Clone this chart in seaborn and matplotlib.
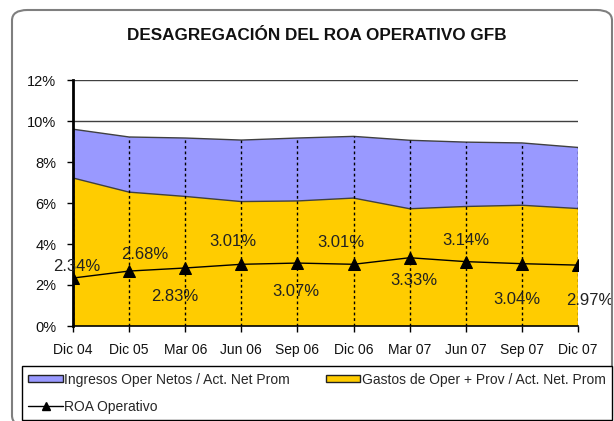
import numpy as np
import pandas as pd
import matplotlib.pyplot as plt
import seaborn as sns
from matplotlib.patches import FancyBboxPatch, Patch
from matplotlib.lines import Line2D
from matplotlib.ticker import FuncFormatter

# Datos (en %)
periodos = ["Dic 04", "Dic 05", "Mar 06", "Jun 06", "Sep 06",
            "Dic 06", "Mar 07", "Jun 07", "Sep 07", "Dic 07"]
ingresos = [9.60, 9.22, 9.17, 9.07, 9.17, 9.25, 9.06, 8.97, 8.93, 8.71]
gastos = [7.22, 6.53, 6.32, 6.07, 6.10, 6.24, 5.72, 5.83, 5.89, 5.73]
roa = [2.34, 2.68, 2.83, 3.01, 3.07, 3.01, 3.33, 3.14, 3.04, 2.97]

# desplazamiento de cada etiqueta (pixeles) respecto a su punto
desplaz = [(4, 12), (16, 17), (-10, -29), (-8, 23), (-2, -28),
           (-13, 22), (4, -23), (0, 21), (-5, -36), (12, -35)]

df = pd.DataFrame({"periodo": periodos, "x": np.arange(len(periodos)),
                   "ingresos": ingresos, "gastos": gastos, "roa": roa})

sns.set_theme(style="white")
plt.rcParams["font.family"] = ["Liberation Sans", "DejaVu Sans"]

azul = "#9999FF"
amarillo = "#FFCC00"

fig = plt.figure(figsize=(6.14, 4.21), dpi=100)
W, H = 614, 421
ax = fig.add_axes([73 / W, 1 - 326 / H, (578 - 73) / W, (326 - 80) / H])

# marco redondeado exterior
marco = FancyBboxPatch((12 / W, 1 - 426 / H), (612 - 12) / W, (426 - 10) / H,
                       boxstyle="round,pad=0,rounding_size=0.025",
                       transform=fig.transFigure, fill=False,
                       edgecolor="#7f7f7f", linewidth=1.5, clip_on=False)
fig.patches.append(marco)

fig.text(127 / W, 1 - 35 / H, "DESAGREGACIÓN DEL ROA OPERATIVO GFB",
         ha="left", va="center", fontsize=12.3, fontweight="bold", color="#111111")

# cuadricula horizontal detras de las areas
for yv in [10, 12]:
    ax.axhline(yv, color="#404040", linewidth=1, zorder=0)

ax.fill_between(df["x"], 0, df["ingresos"], color=azul, edgecolor="none", zorder=1)
ax.plot(df["x"], df["ingresos"], color="#404040", linewidth=1, zorder=1.5)
ax.fill_between(df["x"], 0, df["gastos"], color=amarillo, edgecolor="none", zorder=2)
ax.plot(df["x"], df["gastos"], color="#404040", linewidth=1, zorder=2.5)

ax.vlines(df["x"], 0, df["ingresos"], colors="black", linestyles=(0, (2, 2)),
          linewidth=1, zorder=3)

sns.lineplot(data=df, x="x", y="roa", ax=ax, color="black", linewidth=1,
             marker="^", markersize=8, markeredgecolor="black", zorder=4)

for xi, v, (dx, dy) in zip(df["x"], roa, desplaz):
    ax.annotate(f"{v:.2f}%", (xi, v), xytext=(dx * 0.72, dy * 0.72),
                textcoords="offset points", ha="center", va="center",
                fontsize=12, color="#222222", zorder=5)

ax.set_xlim(0, 9)
ax.set_ylim(0, 12)
ax.set_xticks(df["x"])
ax.set_xticklabels(periodos)
ax.set_yticks(range(0, 13, 2))
ax.yaxis.set_major_formatter(FuncFormatter(lambda v, p: f"{v:.0f}%"))
ax.set_xlabel("")
ax.set_ylabel("")
ax.tick_params(axis="both", which="major", length=4, width=1, color="black",
               labelcolor="#111111", direction="out")
ax.tick_params(axis="x", pad=8, labelsize=10)
ax.tick_params(axis="y", pad=8, labelsize=10.5)
ax.xaxis.set_ticks_position("bottom")
ax.yaxis.set_ticks_position("left")
for s in ["top", "right"]:
    ax.spines[s].set_visible(False)
ax.spines["left"].set_color("black")
ax.spines["left"].set_linewidth(2)
ax.spines["bottom"].set_color("black")
ax.spines["bottom"].set_linewidth(1.2)
ax.set_facecolor("white")
ax.set_zorder(1)

h_ing = Patch(facecolor=azul, edgecolor="#222222", linewidth=1)
h_gas = Patch(facecolor=amarillo, edgecolor="#222222", linewidth=1)
h_roa = Line2D([], [], color="black", linewidth=1, marker="^", markersize=6)
leg = fig.legend([h_ing, h_roa, h_gas],
                 ["Ingresos Oper Netos / Act. Net Prom", "ROA Operativo",
                  "Gastos de Oper + Prov / Act. Net. Prom"],
                 ncol=2, loc="lower left", mode="expand",
                 bbox_to_anchor=(22 / W, 1 - 420 / H, (612 - 22) / W, (420 - 370) / H),
                 fontsize=10, frameon=True, fancybox=False, framealpha=1,
                 edgecolor="black", handlelength=2.5, handleheight=0.45,
                 handletextpad=0.1, borderpad=0.45, labelspacing=0.95,
                 columnspacing=1.5, borderaxespad=0)
leg.get_frame().set_linewidth(1)

fig.savefig("out.png", dpi=100)
